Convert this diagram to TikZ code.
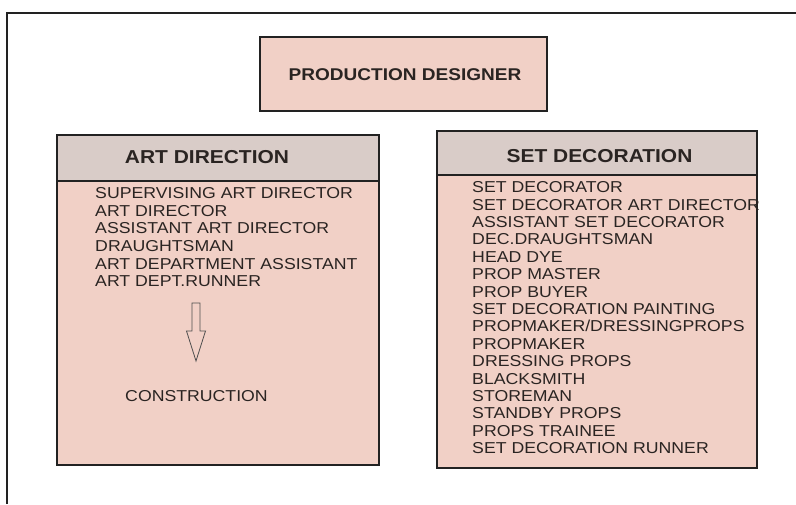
\documentclass[tikz,border=0pt]{standalone}
\usepackage{fontspec}
\setmainfont{Liberation Sans}
\definecolor{pinkfill}{HTML}{F1D0C6}
\definecolor{headfill}{HTML}{D9CCC8}
\definecolor{edge}{HTML}{222222}
\definecolor{txt}{HTML}{2A2422}
\begin{document}
\begin{tikzpicture}[x=1pt,y=-1pt,
  box/.style={draw=edge,line width=1.6pt,fill=pinkfill},
  head/.style={draw=edge,line width=1.6pt,fill=headfill},
  wide/.style={xscale=1.12,transform shape},
  htext/.style={wide,font=\fontsize{18.7}{20}\selectfont\bfseries,text=txt},
  ltext/.style={wide,font=\fontsize{15.8}{17.4}\selectfont,text=txt,align=left,inner sep=0pt,anchor=north west},
]
\useasboundingbox (0,0) rectangle (796,504);
\fill[white] (0,0) rectangle (796,504);
\draw[edge,line width=1.4pt] (7,504) -- (7,13) -- (796,13);
% production designer
\draw[box] (260,37) rectangle (547,111);
\node[wide,font=\fontsize{17}{20}\selectfont\bfseries,text=txt] (pd) at (405,75) {PRODUCTION DESIGNER};
% art direction
\draw[box] (57,135) rectangle (379,465);
\draw[head] (57,135) rectangle (379,181);
\node[htext] (ad) at (207,157) {ART DIRECTION};
\node[ltext,font=\fontsize{15.8}{17.6}\selectfont] (adlist) at (95,187.5) {SUPERVISING ART DIRECTOR\\ART DIRECTOR\\ASSISTANT ART DIRECTOR\\DRAUGHTSMAN\\ART DEPARTMENT ASSISTANT\\ART DEPT.RUNNER};
\draw[edge!80,line width=0.8pt,fill=pinkfill] (192,303) -- (200,303) -- (200,331) -- (205.5,331) -- (196,361) -- (186.5,331) -- (192,331) -- cycle;
\node[wide,font=\fontsize{15.8}{17.5}\selectfont,text=txt] (con) at (196.5,396) {CONSTRUCTION};
% set decoration
\draw[box] (437,131) rectangle (757,468);
\draw[head] (437,131) rectangle (757,175);
\node[htext] (sd) at (599.5,156) {SET DECORATION};
\node[ltext] (sdlist) at (472,181.5) {SET DECORATOR\\SET DECORATOR ART DIRECTOR\\ASSISTANT SET DECORATOR\\DEC.DRAUGHTSMAN\\HEAD DYE\\PROP MASTER\\PROP BUYER\\SET DECORATION PAINTING\\PROPMAKER/DRESSINGPROPS\\PROPMAKER\\DRESSING PROPS\\BLACKSMITH\\STOREMAN\\STANDBY PROPS\\PROPS TRAINEE\\SET DECORATION RUNNER};
\end{tikzpicture}
\end{document}
